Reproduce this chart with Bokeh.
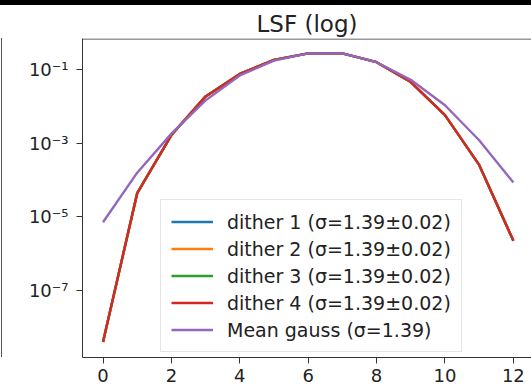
from bokeh.plotting import figure
from bokeh.layouts import column, row
from bokeh.models import (Range1d, FixedTicker, CustomJSTickFormatter, Legend,
                          LegendItem, BoxAnnotation, Div)
from bokeh.embed import file_html
from bokeh.resources import INLINE

# ---- data ----
x_pix = [0, 1, 2, 3, 4, 5, 6, 7, 8, 9, 10, 11, 12]
dither1 = [4.0e-9, 4.4e-5, 1.66e-3, 1.86e-2, 7.6e-2, 0.182, 0.275, 0.275, 0.158, 0.0457, 5.75e-3, 2.57e-4, 2.24e-6]
dither2 = [4.0e-9, 4.4e-5, 1.66e-3, 1.86e-2, 7.6e-2, 0.182, 0.275, 0.275, 0.158, 0.0457, 5.75e-3, 2.57e-4, 2.24e-6]
dither3 = [4.0e-9, 4.4e-5, 1.66e-3, 1.86e-2, 7.6e-2, 0.182, 0.275, 0.275, 0.158, 0.0457, 5.75e-3, 2.57e-4, 2.24e-6]
dither4 = [4.0e-9, 4.4e-5, 1.66e-3, 1.86e-2, 7.6e-2, 0.182, 0.275, 0.275, 0.158, 0.0457, 5.75e-3, 2.57e-4, 2.24e-6]
mean_gauss = [7.1e-6, 1.58e-4, 1.82e-3, 1.45e-2, 6.9e-2, 0.174, 0.275, 0.275, 0.158, 0.0525, 0.0107, 1.2e-3, 8.5e-5]

series = [dither1, dither2, dither3, dither4, mean_gauss]
labels = ["dither 1 (σ=1.39±0.02)", "dither 2 (σ=1.39±0.02)",
          "dither 3 (σ=1.39±0.02)", "dither 4 (σ=1.39±0.02)",
          "Mean gauss (σ=1.39)"]
colors = ["#1f77b4", "#ff7f0e", "#2ca02c", "#d62728", "#9467bd"]
x_ticks = [0, 2, 4, 6, 8, 10, 12]
y_ticks = [1e-1, 1e-3, 1e-5, 1e-7]

FONT = "DejaVu Sans"

p = figure(width=528, height=383, output_backend="svg", toolbar_location=None,
           y_axis_type="log",
           x_range=Range1d(-0.6, 12.53), y_range=Range1d(10 ** -8.82, 10 ** -0.158),
           min_border_left=79, min_border_right=0, min_border_top=33,
           min_border_bottom=31, title="LSF (log)", margin=0)

p.title.text_font = FONT
p.title.text_font_size = "23px"
p.title.text_font_style = "normal"
p.title.align = "center"
p.title.text_color = "#222222"
p.title.standoff = 3

p.xgrid.visible = False
p.ygrid.visible = False
p.outline_line_color = None
p.background_fill_color = "white"
p.border_fill_color = "white"

for ax in (p.xaxis[0], p.yaxis[0]):
    ax.axis_line_color = "#333333"
    ax.axis_line_width = 1
    ax.major_tick_line_color = "#333333"
    ax.major_tick_out = 6
    ax.major_tick_in = 0
    ax.minor_tick_line_color = None
    ax.major_label_text_font = FONT
    ax.major_label_text_font_size = "18px"
    ax.major_label_text_color = "#222222"

p.xaxis.ticker = FixedTicker(ticks=x_ticks)
p.xaxis.major_label_standoff = 5
p.yaxis.ticker = FixedTicker(ticks=y_ticks)
p.yaxis.major_label_standoff = 8
p.yaxis.formatter = CustomJSTickFormatter(code="""
const e = Math.round(Math.log10(tick));
const sup = {'-':'\u207b','0':'\u2070','1':'\u00b9','2':'\u00b2','3':'\u00b3','4':'\u2074',
             '5':'\u2075','6':'\u2076','7':'\u2077','8':'\u2078','9':'\u2079'};
return '10' + String(e).split('').map(c => sup[c]).join('');
""")

items = []
for ys, lab, col in zip(series, labels, colors):
    r = p.line(x_pix, ys, line_color=col, line_width=2.4)
    items.append(LegendItem(label=lab, renderers=[r]))

legend = Legend(items=items, location=(78, 5))
legend.label_text_font = FONT
legend.label_text_font_size = "19px"
legend.label_text_color = "#222222"
legend.glyph_width = 42
legend.glyph_height = 23
legend.label_height = 23
legend.label_standoff = 14
legend.spacing = 4
legend.padding = 10
legend.margin = 0
legend.border_line_color = "#cccccc"
legend.border_line_width = 1
legend.background_fill_alpha = 0.8
p.add_layout(legend)

# frame top line (the right spine is outside the picture)
p.add_layout(BoxAnnotation(left=79, right=528, top=33, bottom=34,
                           left_units="canvas", right_units="canvas",
                           top_units="canvas", bottom_units="canvas",
                           fill_color="#333333", fill_alpha=1, line_color=None, level="overlay"))

# black strip at the top and the edge of the neighbouring panel at the left
top_strip = Div(text="", width=531, height=5, margin=0,
                styles={"background-color": "black"})
left_edge = Div(text="", width=3, height=383, margin=0,
                styles={"background": "linear-gradient(to right, white 1px, #555555 1px, #555555 2.5px, white 2.5px)",
                        "-webkit-mask": "linear-gradient(to bottom, transparent 33px, black 33px, black 352px, transparent 352px)",
                        "mask": "linear-gradient(to bottom, transparent 33px, black 33px, black 352px, transparent 352px)"})
layout = column(top_strip, row(left_edge, p, spacing=0, margin=0), spacing=0, margin=0)

open("out.html", "w").write(file_html(layout, INLINE))
